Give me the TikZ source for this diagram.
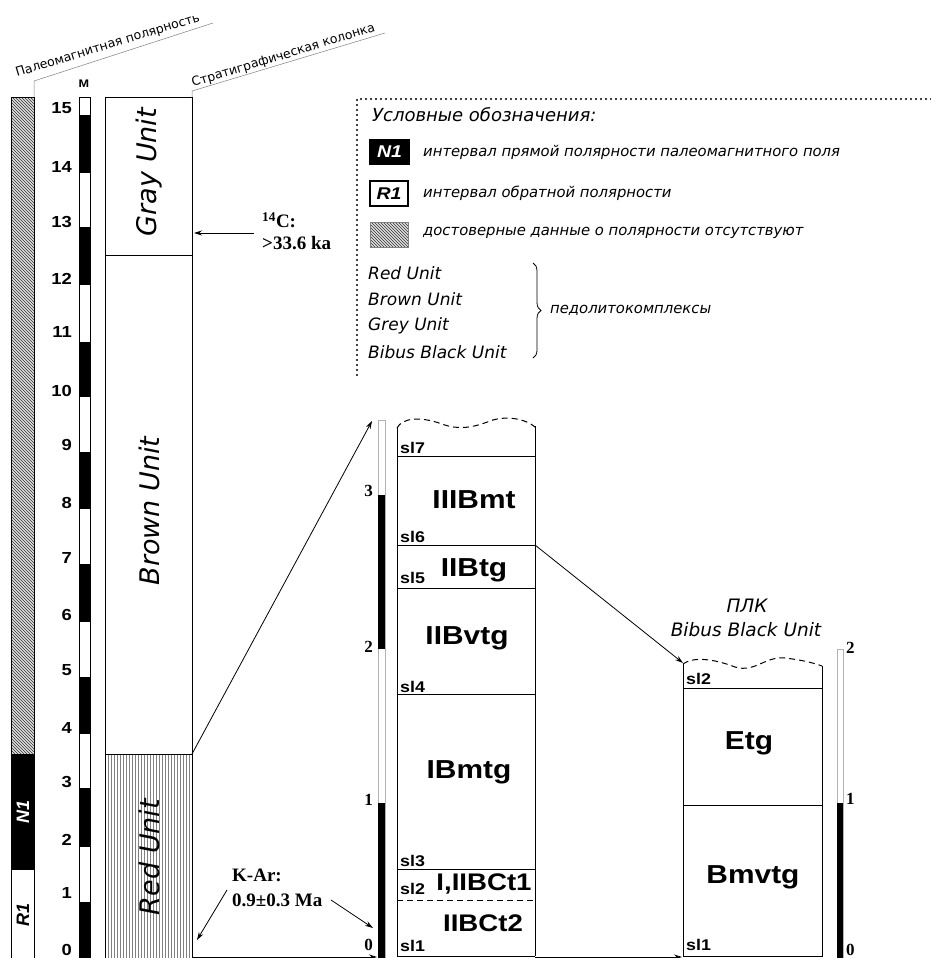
\documentclass[tikz,border=0pt]{standalone}
\usepackage{fontspec}
\setmainfont{DejaVu Sans}
\newfontfamily\ab[FakeStretch=1.15]{Liberation Sans}
\newfontfamily\an{Liberation Sans}
\newfontfamily\tb{Liberation Serif}
\usetikzlibrary{arrows.meta,patterns,decorations.pathreplacing}
\begin{document}
\begin{tikzpicture}[x=1pt,y=-1pt,inner sep=0pt,
  arr/.style={-{Stealth[length=8pt,width=5pt]}, line width=0.8pt},
  col/.style={line width=1pt},
  nodata/.style={pattern=north west lines, pattern color=black!80},
  big/.style={font=\ab\bfseries\fontsize{26}{26}\selectfont},
  bigs/.style={font=\ab\bfseries\fontsize{24}{24}\selectfont},
  sltxt/.style={font=\ab\bfseries\fontsize{15.5}{15.5}\selectfont, anchor=west},
  num/.style={font=\ab\bfseries\fontsize{16}{16}\selectfont, anchor=east},
  ser/.style={font=\tb\bfseries\fontsize{19}{19}\selectfont, anchor=west},
  sn/.style={font=\tb\bfseries\fontsize{17}{17}\selectfont},
  leg/.style={font=\itshape\fontsize{14.8}{14.8}\selectfont, anchor=west},
  unitl/.style={font=\itshape\fontsize{17}{17}\selectfont, anchor=west},
  colname/.style={font=\itshape\fontsize{27}{27}\selectfont, rotate=90},
  head/.style={font=\fontsize{12.5}{12.5}\selectfont, rotate=17, anchor=base west},
  wave/.style={dashed, dash pattern=on 6pt off 4pt, line width=1pt}]
\useasboundingbox (0,0) rectangle (931,958);
\fill[white] (0,0) rectangle (931,958);

% ---------- headings ----------
\draw[gray, line width=0.5pt] (34,97) -- (34,81) -- (213,23);
\node[head] (h1) at (17,77) {Палеомагнитная полярность};
\draw[gray, line width=0.5pt] (192,97) -- (192,91) -- (385,33);
\node[head] (h2) at (193,87) {Стратиграфическая колонка};
\node[font=\ab\bfseries\fontsize{11}{11}\selectfont] (m) at (84,84) {М};

% ---------- paleomagnetic polarity column ----------
\fill[gray!25] (11,97) rectangle (34,754);
\fill[nodata] (11,97) rectangle (34,754);
\fill[black] (11,754) rectangle (34,870);
\draw[col] (11,958) -- (11,97) -- (34,97) -- (34,958);
\node[rotate=90, text=white, font=\an\bfseries\itshape\fontsize{18}{18}\selectfont] (n1) at (23,812) {N1};
\node[rotate=90, font=\an\bfseries\itshape\fontsize{18}{18}\selectfont] (r1) at (23,915) {R1};

% ---------- metre scale ----------
\foreach \a/\b in {115/173,227/285,342/397,452/509,564/622,677/734,788/847,902/958}
  \fill[black] (79,\a) rectangle (90,\b);
\draw[line width=0.8pt] (79,958) -- (79,97) -- (90,97) -- (90,958);
\foreach \v/\y in {15/108,14/167,13/222,12/279,11/332,10/391,9/445,8/503,7/558,6/615,5/670,4/728,3/782,2/840,1/893,0/950}
  \node[num] (s\v) at (72,\y) {\v};

% ---------- stratigraphic column ----------
\fill[pattern=vertical lines, pattern color=gray] (105,754) rectangle (192,958);
\draw[col] (105,958) -- (105,97) -- (192,97) -- (192,958);
\draw[col] (105,255) -- (192,255);
\draw[col] (105,754) -- (192,754);
\node[colname] (gray) at (149,172) {Gray Unit};
\node[colname] (brown) at (149,511) {Brown Unit};
\node[colname] (red) at (149,857) {Red Unit};
\coordinate (redtop) at (192,754);
\coordinate (redbot) at (192,957);

% 14C date
\node[ser] (c14) at (262,220) {\textsuperscript{14}C:};
\node[ser] (c14age) at (262,243) {>33.6 ka};
\coordinate (c14from) at (254,233);
\coordinate (c14tip) at (194,233);
\draw[arr] (c14from) -- (c14tip);

% ---------- legend ----------
\draw[line width=2.2pt, line cap=round, dash pattern=on 0pt off 5pt] (931,99) -- (357,99) -- (357,378);
\node[font=\itshape\fontsize{18}{18}\selectfont, anchor=west] (legt) at (372,115) {Условные обозначения:};
\node[draw, line width=1.2pt, fill=black, text=white, minimum width=39pt, minimum height=24pt,
      font=\ab\bfseries\itshape\fontsize{17}{17}\selectfont] (legn) at (389.5,152) {N1};
\node[leg] (legnt) at (423,152) {интервал прямой полярности палеомагнитного поля};
\node[draw, line width=1.2pt, fill=white, minimum width=38pt, minimum height=25pt,
      font=\ab\bfseries\itshape\fontsize{17}{17}\selectfont] (legr) at (389,193.5) {R1};
\node[leg] (legrt) at (423,193) {интервал обратной полярности};
\fill[gray!25] (370,222) rectangle (408,247);
\fill[nodata] (370,222) rectangle (408,247);
\draw[gray, line width=0.6pt] (370,222) rectangle (408,247);
\node[leg] (legh) at (423,233) {достоверные данные о полярности отсутствуют};
\node[unitl] (u1) at (368,273) {Red Unit};
\node[unitl] (u2) at (368,299) {Brown Unit};
\node[unitl] (u3) at (368,326) {Grey Unit};
\node[unitl] (u4) at (368,352) {Bibus Black Unit};
\draw[line width=0.8pt, decorate, decoration={brace, amplitude=8pt}] (533,263) -- (533,358);
\node[leg] (pedo) at (550,310) {педолитокомплексы};

% ---------- detailed section (middle) ----------
\draw[gray!60, line width=0.8pt] (378,420) rectangle (385,958);
\fill[black] (378,495) rectangle (385,649);
\fill[black] (378,803) rectangle (385,958);
\node[sn, anchor=east] (m3) at (373,491) {3};
\node[sn, anchor=east] (m2) at (373,647) {2};
\node[sn, anchor=east] (m1) at (373,800) {1};
\node[sn, anchor=east] (m0) at (373,945) {0};
\coordinate (midscaletop) at (372,421);
\coordinate (midscalebot) at (377,957);

\draw[col] (397,956) -- (397,428);
\draw[col] (535,426) -- (535,956);
\draw[col] (397,956) -- (535,956);
\draw[wave] (397,428) .. controls (402,418) and (420,416) .. (442,424)
   .. controls (458,430) and (472,428) .. (490,421)
   .. controls (506,415) and (526,419) .. (535,427);
\draw[col] (397,456) -- (535,456);
\draw[col] (397,545) -- (535,545);
\draw[col] (397,588) -- (535,588);
\draw[col] (397,694) -- (535,694);
\draw[col] (397,869) -- (535,869);
\draw[dashed, dash pattern=on 6pt off 4pt, line width=1pt] (397,900) -- (535,900);
\node[sltxt] (sl7) at (400,448) {sl7};
\node[sltxt] (sl6) at (400,537) {sl6};
\node[sltxt] (sl5) at (400,578) {sl5};
\node[sltxt] (sl4) at (400,687) {sl4};
\node[sltxt] (sl3) at (400,861) {sl3};
\node[sltxt] (sl2) at (400,889) {sl2};
\node[sltxt] (sl1) at (400,946) {sl1};
\node[big] (iiibmt) at (474,500) {IIIBmt};
\node[big] (iibtg) at (474,570) {IIBtg};
\node[big] (iibvtg) at (467,638) {IIBvtg};
\node[big] (ibmtg) at (469,772) {IBmtg};
\node[bigs] (ibct1) at (484,884) {I,IIBCt1};
\node[bigs] (ibct2) at (483,923) {IIBCt2};
\coordinate (sl6r) at (535,545);
\coordinate (midbr) at (535,957);

% ---------- Bibus Black Unit (right) ----------
\node[font=\itshape\fontsize{18.5}{18.5}\selectfont] (plk) at (747,606) {ПЛК};
\node[font=\itshape\fontsize{18.5}{18.5}\selectfont] (bbu) at (746,630) {Bibus Black Unit};
\draw[col] (683,664) -- (683,956) -- (822,956) -- (822,666);
\draw[wave] (683,664) .. controls (692,657) and (712,658) .. (735,667)
   .. controls (755,673) and (765,656) .. (785,658)
   .. controls (802,660) and (814,663) .. (822,666);
\draw[col] (683,688) -- (822,688);
\draw[col] (683,805) -- (822,805);
\node[sltxt] (rsl2) at (686,679) {sl2};
\node[sltxt] (rsl1) at (686,945) {sl1};
\node[big] (etg) at (749,743) {Etg};
\node[big] (bmvtg) at (753,877) {Bmvtg};
\draw[gray!60, line width=0.8pt] (837,649) rectangle (843,958);
\fill[black] (837,803) rectangle (843,958);
\node[sn, anchor=west] (r2) at (846,648) {2};
\node[sn, anchor=west] (r1n) at (846,799) {1};
\node[sn, anchor=west] (r0) at (846,950) {0};
\coordinate (rtl) at (683,663);
\coordinate (rbl) at (682,957);

% K-Ar date
\node[ser] (kar) at (232,875) {K-Ar:};
\node[ser] (karage) at (232,900) {0.9±0.3 Ma};
\coordinate (kar1) at (227,890);
\coordinate (kar1tip) at (197,940);
\coordinate (kar2) at (331,900);
\coordinate (kar2tip) at (373,928);
\draw[arr] (kar1) -- (kar1tip);
\draw[arr] (kar2) -- (kar2tip);

% ---------- connectors ----------
\draw[arr] (redtop) -- (midscaletop);
\draw[arr] (redbot) -- (midscalebot);
\draw[arr] (sl6r) -- (rtl);
\draw[arr] (midbr) -- (rbl);
\end{tikzpicture}
\end{document}
